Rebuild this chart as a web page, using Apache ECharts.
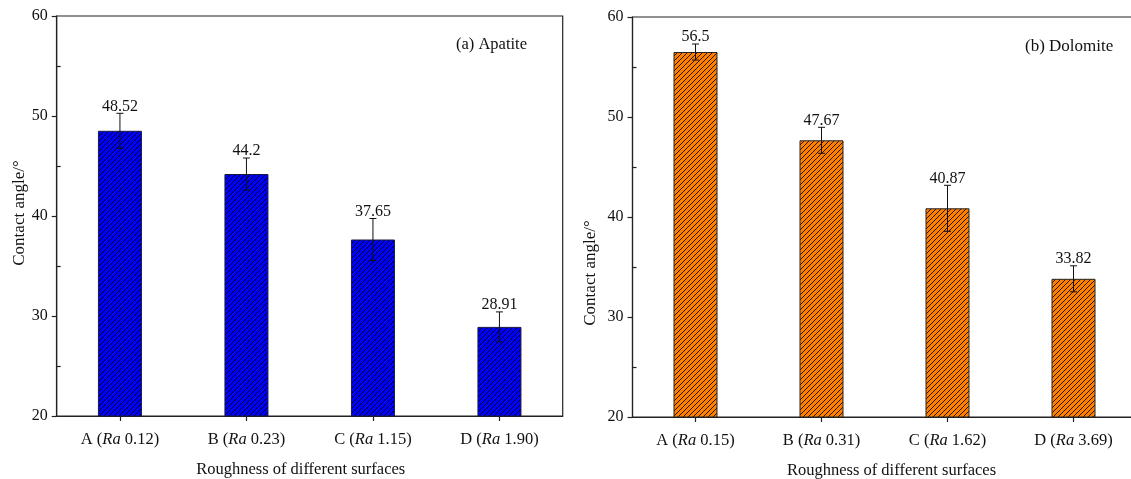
<!DOCTYPE html>
<html>
<head>
<meta charset="utf-8">
<script src="https://cdn.jsdelivr.net/npm/echarts@6/dist/echarts.min.js"></script>
<style>
html,body{margin:0;padding:0;background:#fff;}
#c{width:1131px;height:479px;}
</style>
</head>
<body>
<div id="c"></div>
<script>
// ---- data ----
const letters = ['A', 'B', 'C', 'D'];
const raApatite = ['0.12', '0.23', '1.15', '1.90'];
const raDolomite = ['0.15', '0.31', '1.62', '3.69'];
const apatiteAngle = [48.52, 44.2, 37.65, 28.91];
const apatiteErr = [1.75, 1.6, 2.1, 1.5];
const dolomiteAngle = [56.5, 47.67, 40.87, 33.82];
const dolomiteErr = [0.8, 1.3, 2.3, 1.3];
const yTicks = [20, 30, 40, 50, 60];
const yMinorTicks = [25, 35, 45, 55];
const panelTitles = ['(a) Apatite', '(b) Dolomite'];
const xTitle = 'Roughness of different surfaces';
const yTitle = 'Contact angle/°';

const FONT = '"Liberation Serif", "Times New Roman", serif';

function hatch(bg) {
  const s = 5;
  const cv = document.createElement('canvas');
  cv.width = s; cv.height = s;
  const g = cv.getContext('2d');
  g.fillStyle = bg; g.fillRect(0, 0, s, s);
  g.strokeStyle = '#000'; g.lineWidth = 0.85;
  g.beginPath();
  g.moveTo(-1, s + 1); g.lineTo(s + 1, -1);
  g.moveTo(-1, 1); g.lineTo(1, -1);
  g.moveTo(s - 1, s + 1); g.lineTo(s + 1, s - 1);
  g.stroke();
  return { image: cv, repeat: 'repeat' };
}

const chart = echarts.init(document.getElementById('c'), null, { renderer: 'canvas' });

function xAxisFor(idx, ra, pad) {
  return {
    type: 'category', gridIndex: idx, boundaryGap: true,
    data: letters.map((l, i) => l + '|' + ra[i]),
    splitLine: { show: false },
    axisLine: { show: true, lineStyle: { color: '#222', width: 1.2 } },
    axisTick: { show: true, alignWithLabel: true, length: 5, lineStyle: { color: '#222', width: 1.2 } },
    axisLabel: {
      margin: 15, color: '#111', interval: 0,
      fontFamily: FONT, fontSize: 16.5,
      formatter: function (v) {
        const p = v.split('|');
        return '{n|' + p[0] + ' (}{i|Ra}{n| ' + p[1] + ')}';
      },
      rich: {
        n: { fontFamily: FONT, fontSize: 16.5, color: '#111' },
        i: { fontFamily: FONT, fontSize: 16.5, fontStyle: 'italic', color: '#111' }
      }
    },
    name: xTitle, nameLocation: 'middle', nameGap: 45,
    nameTextStyle: { fontFamily: FONT, fontSize: 16.5, color: '#111', padding: pad }
  };
}
function yAxisFor(idx, gap, pad) {
  return {
    type: 'value', gridIndex: idx, min: yTicks[0], max: yTicks[yTicks.length - 1], interval: 10,
    splitLine: { show: false },
    axisLine: { show: true, lineStyle: { color: '#222', width: 1.2 } },
    axisTick: { show: true, length: 5, lineStyle: { color: '#222', width: 1.2 } },
    axisLabel: { margin: 9, color: '#111', fontFamily: FONT, fontSize: 16 },
    name: yTitle, nameLocation: 'middle', nameGap: gap,
    nameTextStyle: { fontFamily: FONT, fontSize: 17, color: '#111', padding: pad }
  };
}
function yMinorFor(idx) {
  return {
    type: 'value', gridIndex: idx, position: 'left', offset: 0,
    min: yTicks[0], max: yTicks[yTicks.length - 1], interval: 10,
    splitLine: { show: false }, axisLine: { show: false },
    axisLabel: { show: false },
    axisTick: { show: true, inside: true, length: 4, customValues: yMinorTicks, lineStyle: { color: '#222', width: 1.2 } }
  };
}

function errSeries(xi, yi, vals, errs) {
  return {
    type: 'custom', xAxisIndex: xi, yAxisIndex: yi, z: 5,
    data: vals.map((v, i) => [i, v, errs[i]]),
    renderItem: function (params, api) {
      const x = api.value(0), v = api.value(1), e = api.value(2);
      const t = api.coord([x, v + e]), b = api.coord([x, v - e]);
      const c = 3.5;
      return {
        type: 'group', children: [
          { type: 'line', shape: { x1: t[0], y1: t[1], x2: b[0], y2: b[1] }, style: { stroke: '#111', lineWidth: 1 } },
          { type: 'line', shape: { x1: t[0] - c, y1: t[1], x2: t[0] + c, y2: t[1] }, style: { stroke: '#111', lineWidth: 1 } },
          { type: 'line', shape: { x1: b[0] - c, y1: b[1], x2: b[0] + c, y2: b[1] }, style: { stroke: '#111', lineWidth: 1 } },
          { type: 'text', x: t[0], y: t[1] + 1, style: { text: String(v), textAlign: 'center', textVerticalAlign: 'bottom', font: '16px ' + FONT, fill: '#111' } }
        ]
      };
    }
  };
}

const option = {
  backgroundColor: '#fff',
  animation: false,
  grid: [
    { left: 56.7, top: 16, width: 506, height: 400, outerBoundsMode: 'none', containLabel: false, show: true, borderColor: '#222', borderWidth: 1.2, backgroundColor: 'transparent' },
    { left: 632.5, top: 17, width: 504, height: 400, outerBoundsMode: 'none', containLabel: false, show: true, borderColor: '#222', borderWidth: 1.2, backgroundColor: 'transparent' }
  ],
  xAxis: [
    xAxisFor(0, raApatite, [0, 18, 0, 0]),
    xAxisFor(1, raDolomite, [0, 0, 0, 14])
  ],
  yAxis: [
    yAxisFor(0, 22, [0, 0, 0, 6]),
    yMinorFor(0),
    yAxisFor(1, 33, [0, 112, 0, 0]),
    yMinorFor(1)
  ],
  graphic: [
    { type: 'text', left: 456, top: 36.5, style: { text: panelTitles[0], font: '16.5px ' + FONT, fill: '#111' } },
    { type: 'text', left: 1025, top: 38, style: { text: panelTitles[1], font: '17px ' + FONT, fill: '#111' } }
  ],
  series: [
    {
      type: 'bar', xAxisIndex: 0, yAxisIndex: 0, barWidth: 44,
      data: apatiteAngle,
      itemStyle: { color: hatch('#0000FF'), borderColor: '#1a1a40', borderWidth: 1 }
    },
    errSeries(0, 0, apatiteAngle, apatiteErr),
    {
      type: 'bar', xAxisIndex: 1, yAxisIndex: 2, barWidth: 44,
      data: dolomiteAngle,
      itemStyle: { color: hatch('#FF8000'), borderColor: '#222', borderWidth: 1 }
    },
    errSeries(1, 2, dolomiteAngle, dolomiteErr)
  ]
};
chart.setOption(option);
</script>
</body>
</html>
